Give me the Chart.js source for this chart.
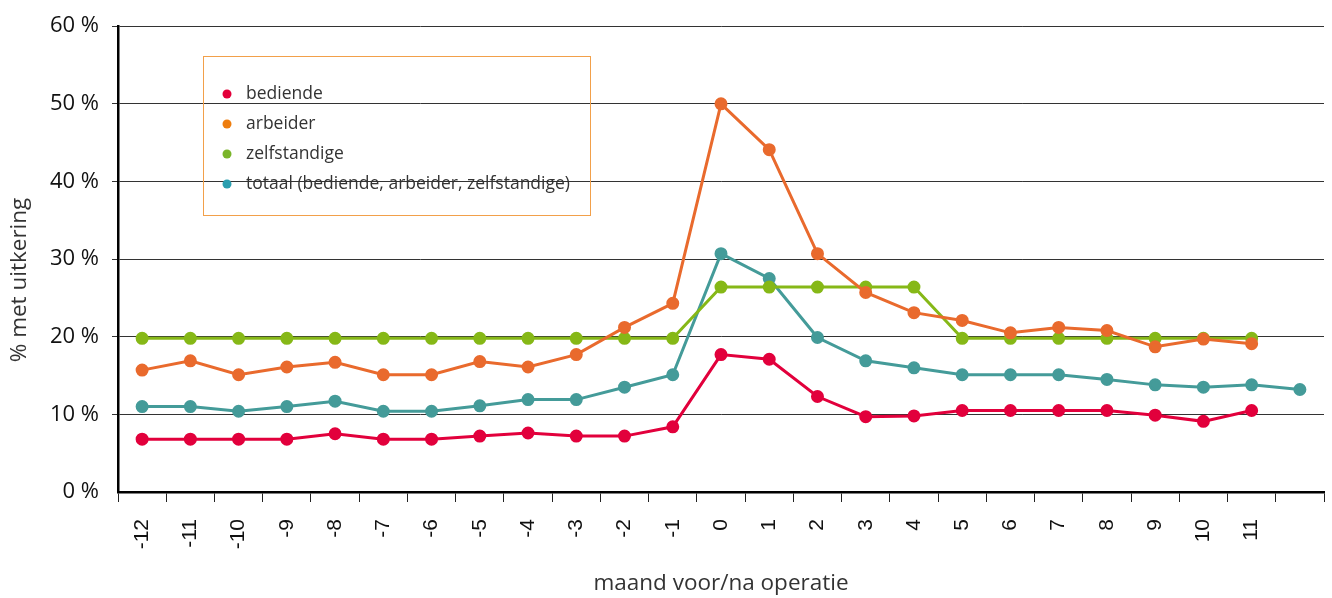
<!DOCTYPE html>
<html>
<head>
<meta charset="utf-8">
<script src="https://cdn.jsdelivr.net/npm/chart.js@4"></script>
<style>
  html, body { margin: 0; padding: 0; background: #fff; }
  #wrap { width: 1332px; height: 598px; }
</style>
</head>
<body>
<div id="wrap"><canvas id="chart" width="1332" height="598"></canvas></div>
<script>
// Categories: months before/after the operation (last one has no label)
const months = ['-12', '-11', '-10', '-9', '-8', '-7', '-6', '-5', '-4', '-3', '-2', '-1',
                '0', '1', '2', '3', '4', '5', '6', '7', '8', '9', '10', '11', ''];

// % met uitkering per group
const bediende = [6.8, 6.8, 6.8, 6.8, 7.5, 6.8, 6.8, 7.2, 7.6, 7.2, 7.2, 8.4,
                  17.7, 17.1, 12.3, 9.7, 9.8, 10.5, 10.5, 10.5, 10.5, 9.9, 9.1, 10.5, null];
const arbeider = [15.7, 16.9, 15.1, 16.1, 16.7, 15.1, 15.1, 16.8, 16.1, 17.7, 21.2, 24.3,
                  50.0, 44.1, 30.7, 25.7, 23.1, 22.1, 20.5, 21.2, 20.8, 18.7, 19.7, 19.1, null];
const zelfstandige = [19.8, 19.8, 19.8, 19.8, 19.8, 19.8, 19.8, 19.8, 19.8, 19.8, 19.8, 19.8,
                      26.4, 26.4, 26.4, 26.4, 26.4, 19.8, 19.8, 19.8, 19.8, 19.8, 19.8, 19.8, null];
const totaal = [11.0, 11.0, 10.4, 11.0, 11.7, 10.4, 10.4, 11.1, 11.9, 11.9, 13.5, 15.1,
                30.7, 27.5, 19.9, 16.9, 16.0, 15.1, 15.1, 15.1, 14.5, 13.8, 13.5, 13.8, 13.2];

const seriesNames = ['bediende', 'arbeider', 'zelfstandige', 'totaal (bediende, arbeider, zelfstandige)'];
const lineColors = ['#e2003c', '#e96a2d', '#86b817', '#449b99'];
const legendColors = ['#e3003a', '#ee7d0e', '#7ab52a', '#2b9fb0'];

const yTicks = [0, 10, 20, 30, 40, 50, 60];
const yTitle = '% met uitkering';

const fontFamily = "'Open Sans', sans-serif";
const tickFamily = "'Liberation Sans', Arial, sans-serif";

function makeDataset(label, data, color) {
    return {
        label: label,
        data: data,
        borderColor: color,
        backgroundColor: color,
        pointBackgroundColor: color,
        pointBorderColor: color,
        pointRadius: 5,
        pointHoverRadius: 5,
        borderWidth: 3,
        tension: 0,
        spanGaps: false
    };
}

// Legend box inside the plot area (orange frame) and the y axis title
const legendBox = {
    id: 'legendBox',
    afterDatasetsDraw(chart) {
        const ctx = chart.ctx;
        ctx.save();
        ctx.strokeStyle = '#f2a04a';
        ctx.lineWidth = 1;
        ctx.strokeRect(203.5, 56.5, 387, 159);
        ctx.font = "17.5px " + fontFamily;
        ctx.textBaseline = 'middle';
        chart.data.datasets.forEach((ds, i) => {
            const y = 94 + i * 30;
            ctx.beginPath();
            ctx.fillStyle = legendColors[i];
            ctx.arc(227, y, 4.5, 0, Math.PI * 2);
            ctx.fill();
            ctx.fillStyle = '#333';
            ctx.fillText(ds.label, 246, y);
        });

        // y axis title, rotated
        ctx.translate(20, 280);
        ctx.rotate(-Math.PI / 2);
        ctx.textAlign = 'center';
        ctx.font = "22.5px " + fontFamily;
        ctx.fillStyle = '#333';
        ctx.fillText(yTitle, 0, 0);
        ctx.restore();
    }
};

const ctx = document.getElementById('chart').getContext('2d');
const chart = new Chart(ctx, {
    type: 'line',
    data: {
        labels: months,
        datasets: [
            makeDataset(seriesNames[0], bediende, lineColors[0]),
            makeDataset(seriesNames[1], arbeider, lineColors[1]),
            makeDataset(seriesNames[2], zelfstandige, lineColors[2]),
            makeDataset(seriesNames[3], totaal, lineColors[3])
        ]
    },
    options: {
        responsive: false,
        animation: false,
        layout: {
            padding: { top: 12, right: 7, left: 0, bottom: 1 }
        },
        plugins: {
            legend: { display: false },
            tooltip: { enabled: false }
        },
        scales: {
            x: {
                offset: true,
                afterFit: (axis) => {
                    axis.height = 105;
                    axis.paddingLeft = 0;
                    axis.paddingRight = 0;
                },
                grid: {
                    offset: true,
                    drawOnChartArea: false,
                    drawTicks: true,
                    tickLength: 10,
                    color: (c) => (c.index === months.length ? 'transparent' : '#222'),
                    lineWidth: 1
                },
                border: { color: '#000', width: 2.5 },
                ticks: {
                    autoSkip: false,
                    maxRotation: 90,
                    minRotation: 90,
                    padding: 17,
                    color: '#111',
                    font: { family: tickFamily, size: 21 }
                },
                title: {
                    display: true,
                    text: 'maand voor/na operatie',
                    color: '#333',
                    font: { family: fontFamily, size: 22.5 },
                    padding: { top: 0, bottom: 0 }
                }
            },
            y: {
                min: 0,
                max: 60,
                afterFit: (axis) => { axis.width = 118; },
                afterBuildTicks: (axis) => { axis.ticks = yTicks.map(v => ({ value: v })); },
                grid: {
                    color: (c) => (c.tick && c.tick.value === 0 ? 'transparent' : '#333'),
                    lineWidth: 1,
                    tickLength: 6
                },
                border: { color: '#000', width: 2.5 },
                ticks: {
                    padding: 13,
                    color: '#111',
                    font: { family: fontFamily, size: 22 },
                    callback: (v) => v + ' %'
                }
            }
        }
    },
    plugins: [legendBox]
});
</script>
</body>
</html>
